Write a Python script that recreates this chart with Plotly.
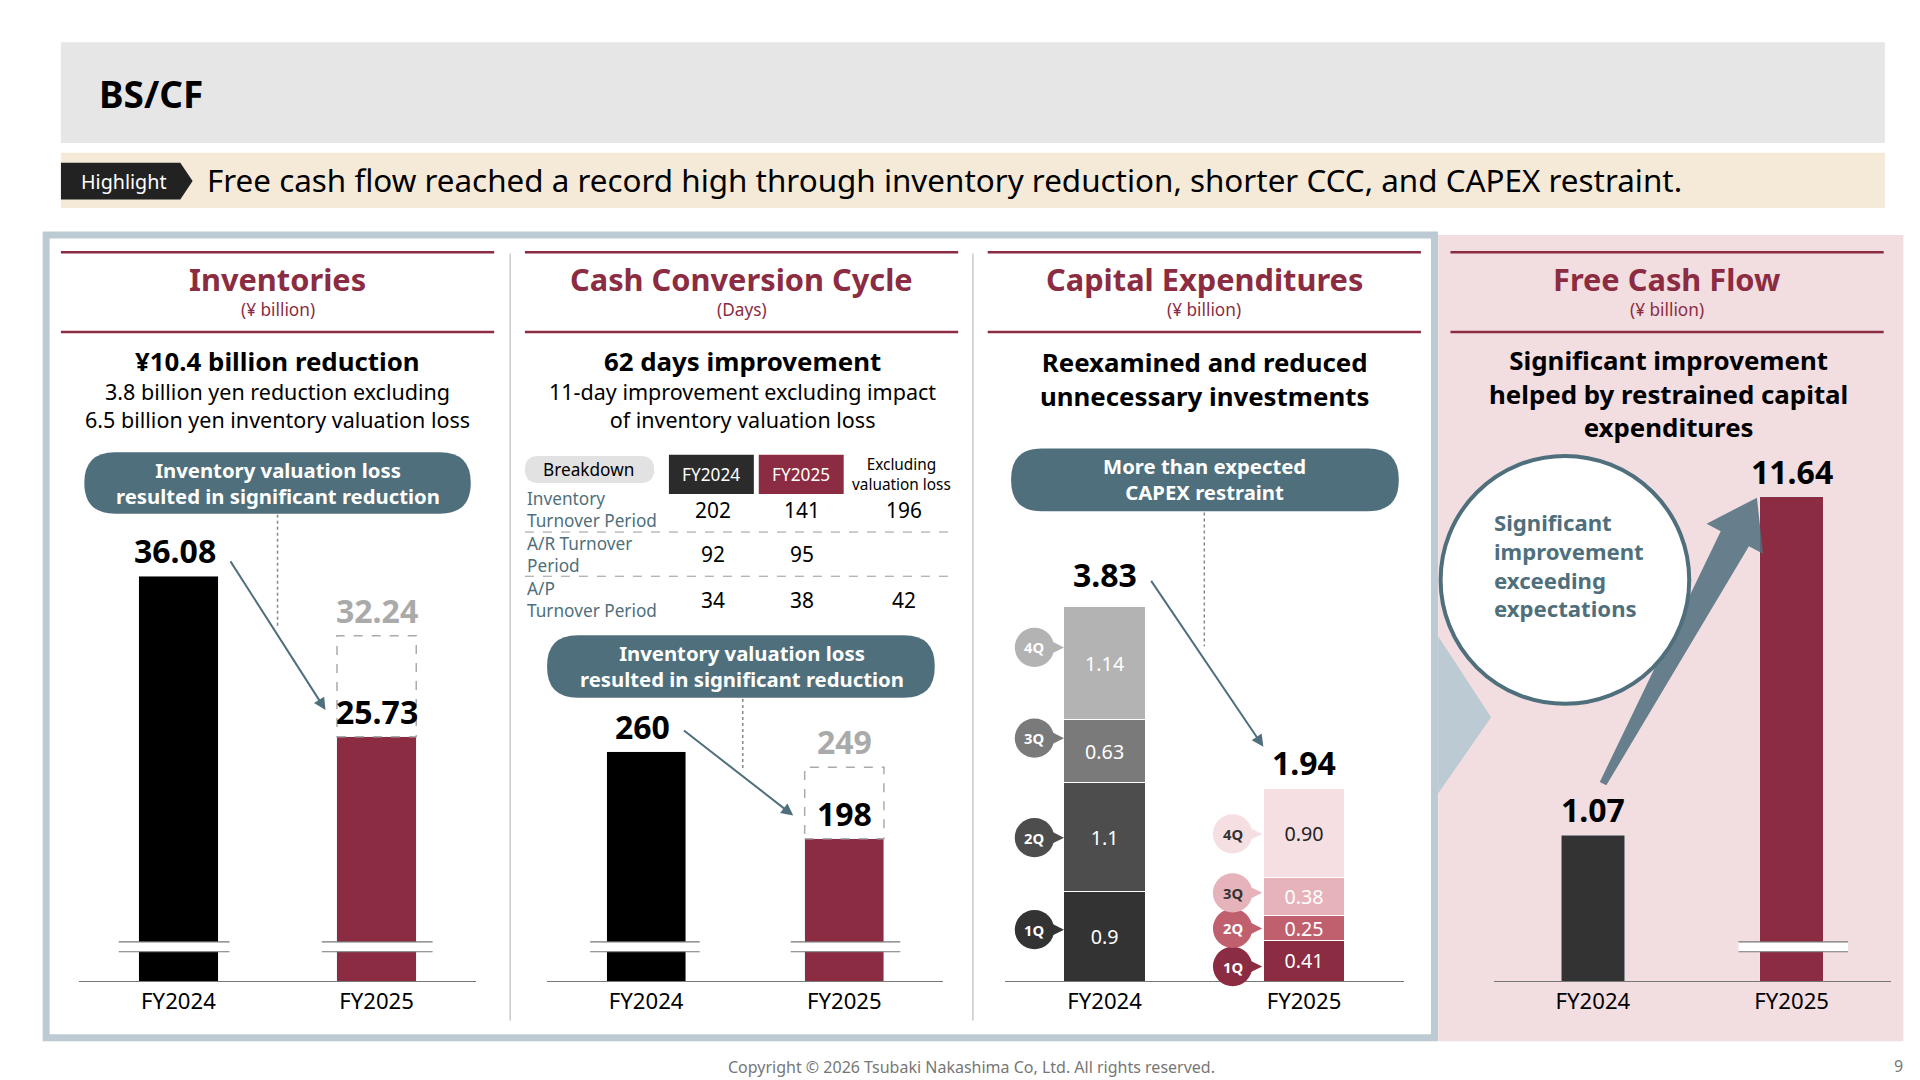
import numpy as np
import plotly.graph_objects as go

W0, H0 = 1560, 880
S = 1920 / W0
RED = "#8b2c42"
SLATE = "#4f6f7c"
FONT = "Noto Sans"

cats = ["FY2024", "FY2025"]
inv = [36.08, 25.73]
inv_excl = 32.24
ccc = [260, 198]
ccc_excl = 249
capex_q = ["1Q", "2Q", "3Q", "4Q"]
capex_24 = [0.9, 1.1, 0.63, 1.14]
capex_25 = [0.41, 0.25, 0.38, 0.90]
capex_tot = [3.83, 1.94]
fcf = [1.07, 11.64]
tbl_rows = ["Inventory<br>Turnover Period", "A/R Turnover<br>Period", "A/P<br>Turnover Period"]
tbl_24 = ["202", "92", "34"]
tbl_25 = ["141", "95", "38"]
tbl_ex = ["196", "", "42"]


def X(px):
    return px / W0


def Y(py):
    return 1 - py / H0


def F(sz):
    return sz * S


anns = []
shapes = []


def txt(px, py, text, size, color="black", bold=False, xa="center", ya="middle", align="center"):
    if bold:
        text = "<b>" + text + "</b>"
    anns.append(dict(x=X(px), y=Y(py), xref="paper", yref="paper", text=text, showarrow=False,
                     xanchor=xa, yanchor=ya, align=align,
                     font=dict(size=F(size), color=color, family=FONT)))


def rect(x0, y0, x1, y1, fill, line=None, lw=0, dash=None, layer="below"):
    shapes.append(dict(type="rect", xref="paper", yref="paper", x0=X(x0), x1=X(x1), y0=Y(y0), y1=Y(y1),
                       fillcolor=fill, line=dict(color=line or fill, width=lw, dash=dash), layer=layer))


def path(pts, fill, line=None, lw=0, layer="above", closed=True):
    d = "M " + " L ".join(f"{X(a):.5f},{Y(b):.5f}" for a, b in pts) + (" Z" if closed else "")
    shapes.append(dict(type="path", xref="paper", yref="paper", path=d, fillcolor=fill,
                       line=dict(color=line or fill, width=lw), layer=layer))


def rrect(x0, y0, x1, y1, r, fill):
    p = (f"M {X(x0+r)},{Y(y0)} L {X(x1-r)},{Y(y0)} Q {X(x1)},{Y(y0)} {X(x1)},{Y(y0+r)} "
         f"L {X(x1)},{Y(y1-r)} Q {X(x1)},{Y(y1)} {X(x1-r)},{Y(y1)} L {X(x0+r)},{Y(y1)} "
         f"Q {X(x0)},{Y(y1)} {X(x0)},{Y(y1-r)} L {X(x0)},{Y(y0+r)} Q {X(x0)},{Y(y0)} {X(x0+r)},{Y(y0)} Z")
    shapes.append(dict(type="path", xref="paper", yref="paper", path=p, fillcolor=fill,
                       line=dict(width=0), layer="above"))


def circ(cx, cy, r, fill, line=None, lw=0):
    shapes.append(dict(type="circle", xref="paper", yref="paper", x0=X(cx-r), x1=X(cx+r),
                       y0=Y(cy-r), y1=Y(cy+r), fillcolor=fill, line=dict(color=line or fill, width=lw),
                       layer="above"))


def vline(px, y0, y1, color="#888", dash="dot", lw=1.5):
    shapes.append(dict(type="line", xref="paper", yref="paper", x0=X(px), x1=X(px), y0=Y(y0), y1=Y(y1),
                       line=dict(color=color, width=lw, dash=dash), layer="above"))


def hline(py, x0, x1, color="#888", dash=None, lw=1.5, layer="above"):
    shapes.append(dict(type="line", xref="paper", yref="paper", x0=X(x0), x1=X(x1), y0=Y(py), y1=Y(py),
                       line=dict(color=color, width=lw, dash=dash), layer=layer))


def arrow(x0, y0, x1, y1):
    anns.append(dict(x=X(x1), y=Y(y1), xref="paper", yref="paper", ax=(x0-x1)*S, ay=(y0-y1)*S,
                     showarrow=True, arrowhead=2, arrowsize=1.2, arrowwidth=2, arrowcolor=SLATE, text=""))


def brk(py, x0, x1):
    rect(x0, py-4, x1, py+4, "white", layer="above")
    hline(py-4, x0, x1, "#777", lw=1.2)
    hline(py+4, x0, x1, "#777", lw=1.2)


# header bands
rect(43, 28, 1525, 110, "#e6e6e6")
txt(72, 70, "BS/CF", 30, bold=True, xa="left")
rect(43, 118, 1525, 163, "#f5ead8")
path([(43, 126), (140, 126), (150, 141), (140, 156), (43, 156)], "#222")
txt(94, 141, "Highlight", 16, "white")
txt(160, 140, "Free cash flow reached a record high through inventory reduction, shorter CCC, and CAPEX restraint.",
    25.5, xa="left")

# panels
rect(1162, 185, 1540, 842, "#f2dde0")
rect(31, 185, 1159, 839, "rgba(0,0,0,0)", "#bccbd3", lw=7)
path([(1162, 512), (1205, 578), (1162, 640)], "#bccbd3")
vline(408, 200, 825, "#bbb", dash=None, lw=1.2)
vline(784, 200, 825, "#bbb", dash=None, lw=1.2)

panels = [(43, 395, "Inventories", "(¥ billion)"), (420, 772, "Cash Conversion Cycle", "(Days)"),
          (796, 1148, "Capital Expenditures", "(¥ billion)"), (1172, 1524, "Free Cash Flow", "(¥ billion)")]
for x0, x1, t, u in panels:
    hline(199, x0, x1, RED, lw=2.5)
    hline(264, x0, x1, RED, lw=2.5)
    txt((x0+x1)/2, 221, t, 25, RED, bold=True)
    txt((x0+x1)/2, 246, u, 14, RED)

txt(219, 288, "¥10.4 billion reduction", 21, bold=True)
txt(219, 324, "3.8 billion yen reduction excluding<br>6.5 billion yen inventory valuation loss", 17.5)
txt(597, 288, "62 days improvement", 21, bold=True)
txt(597, 324, "11-day improvement excluding impact<br>of inventory valuation loss", 17.5)
txt(972, 302, "Reexamined and reduced<br>unnecessary investments", 21, bold=True)
txt(1349, 314, "Significant improvement<br>helped by restrained capital<br>expenditures", 21, bold=True)

# pills
rrect(62, 362, 376, 412, 25, SLATE)
txt(219, 387, "Inventory valuation loss<br>resulted in significant reduction", 16.5, "white", bold=True)
rrect(438, 511, 753, 562, 25, SLATE)
txt(596, 536, "Inventory valuation loss<br>resulted in significant reduction", 16.5, "white", bold=True)
rrect(815, 359, 1130, 410, 25, SLATE)
txt(972, 384, "More than expected<br>CAPEX restraint", 16.5, "white", bold=True)
vline(219, 413, 505)
vline(597, 563, 620)
vline(972, 411, 520)

# table
rrect(420, 365, 525, 387, 11, "#e2e2e2")
txt(472, 376, "Breakdown", 14)
rect(537, 364, 606, 396, "#2b2b2b", layer="above")
txt(571, 380, "FY2024", 14, "white")
rect(610, 364, 679, 396, RED, layer="above")
txt(644, 380, "FY2025", 14, "white")
txt(726, 380, "Excluding<br>valuation loss", 12.5)
row_y = [409, 445, 482]
for i, ry in enumerate(row_y):
    txt(420, ry, tbl_rows[i], 14, SLATE, xa="left", align="left")
    txt(573, ry, tbl_24[i], 17)
    txt(645, ry, tbl_25[i], 17)
    txt(728, ry, tbl_ex[i], 17)
hline(427, 420, 768, "#999", dash="dash", lw=1)
hline(463, 420, 768, "#999", dash="dash", lw=1)

# charts
dom_y = [Y(793), Y(380)]
specs = [  # axis x-range in ref px, baseline value, px per unit, bargap
    (58, 380, 10.0, 12.66, 0.6),
    (438, 760, 96.7, 1.145, 0.6),
    (810, 1134, 0.0, 81.0, 0.59),
    (1207, 1530, -3.49, 26.1, 0.68),
]
layout_axes = {}
for i, (a0, a1, c, k, g) in enumerate(specs, start=1):
    layout_axes[f"xaxis{i}"] = dict(domain=[X(a0), X(a1)], anchor=f"y{i}", showline=True, linecolor="#777",
                                    linewidth=1.2, ticks="", tickfont=dict(size=F(18), family=FONT, color="black"),
                                    fixedrange=True, showgrid=False)
    layout_axes[f"yaxis{i}"] = dict(domain=dom_y, anchor=f"x{i}", range=[c, c + 413 / k], visible=False,
                                    fixedrange=True)

fig = go.Figure()
c1 = specs[0][2]
fig.add_trace(go.Bar(x=cats, y=[v - c1 for v in inv], base=c1, marker_color=["black", RED],
                     xaxis="x1", yaxis="y1", width=1 - specs[0][4]))
c2 = specs[1][2]
fig.add_trace(go.Bar(x=cats, y=[v - c2 for v in ccc], base=c2, marker_color=["black", RED],
                     xaxis="x2", yaxis="y2", width=1 - specs[1][4]))
gray_cols = ["#333333", "#4d4d4d", "#7a7a7a", "#b3b3b3"]
red_cols = [RED, "#c0606f", "#e6b3bb", "#f6dfe2"]
red_txt = ["white", "white", "white", "#222"]
for j in range(4):
    fig.add_trace(go.Bar(x=[cats[0]], y=[capex_24[j]], marker=dict(color=gray_cols[j], line=dict(color="white", width=1)),
                         text=[f"{capex_24[j]}"], textposition="inside", insidetextanchor="middle",
                         constraintext="none", cliponaxis=False,
                         textfont=dict(color="white", size=F(16), family=FONT),
                         xaxis="x3", yaxis="y3", width=1 - specs[2][4]))
    fig.add_trace(go.Bar(x=[cats[1]], y=[capex_25[j]], marker=dict(color=red_cols[j], line=dict(color="white", width=1)),
                         text=[f"{capex_25[j]:.2f}"], textposition="inside", insidetextanchor="middle",
                         constraintext="none", cliponaxis=False,
                         textfont=dict(color=red_txt[j], size=F(16), family=FONT),
                         xaxis="x3", yaxis="y3", width=1 - specs[2][4]))
c4 = specs[3][2]
fig.add_trace(go.Bar(x=cats, y=[v - c4 for v in fcf], base=c4, marker_color=["#333333", RED],
                     xaxis="x4", yaxis="y4", width=1 - specs[3][4]))


def vlab(ax, cat, val, text, size=26, color="black", dx=0):
    anns.append(dict(x=cat, y=val, xref=f"x{ax}", yref=f"y{ax}", text="<b>" + text + "</b>", showarrow=False,
                     yanchor="bottom", xshift=dx * S, yshift=2,
                     font=dict(size=F(size), color=color, family=FONT)))


bw = 1 - specs[0][4]
shapes.append(dict(type="rect", xref="x1", yref="y1", x0=1 - bw / 2, x1=1 + bw / 2, y0=inv[1], y1=inv_excl,
                   line=dict(color="#aaa", dash="dash", width=1.5), fillcolor="rgba(0,0,0,0)", layer="above"))
bw = 1 - specs[1][4]
shapes.append(dict(type="rect", xref="x2", yref="y2", x0=1 - bw / 2, x1=1 + bw / 2, y0=ccc[1], y1=ccc_excl,
                   line=dict(color="#aaa", dash="dash", width=1.5), fillcolor="rgba(0,0,0,0)", layer="above"))
vlab(1, cats[0], inv[0], "36.08", dx=-3)
vlab(1, cats[1], inv_excl, "32.24", color="#aaa")
vlab(1, cats[1], inv[1], "25.73")
vlab(2, cats[0], ccc[0], "260", dx=-3)
vlab(2, cats[1], ccc_excl, "249", color="#aaa")
vlab(2, cats[1], ccc[1], "198")
vlab(3, cats[0], capex_tot[0], f"{capex_tot[0]}")
vlab(3, cats[1], capex_tot[1], f"{capex_tot[1]}")
vlab(4, cats[0], fcf[0], f"{fcf[0]}")
vlab(4, cats[1], fcf[1], f"{fcf[1]}")

arrow(180, 450, 258, 572)
arrow(548, 588, 638, 658)
arrow(928, 466, 1020, 602)

brk(765, 90, 180)
brk(765, 255, 345)
brk(765, 473, 562)
brk(765, 636, 725)
brk(765, 1406, 1495)

# quarter badges
q24_y = [751, 676, 595, 521]
q25_y = [781, 750, 721, 673]
q25_txt = ["white", "white", "#333", "#333"]
for j in range(4):
    path([(846, q24_y[j]-6), (858, q24_y[j]), (846, q24_y[j]+6)], gray_cols[j])
    circ(834, q24_y[j], 16, gray_cols[j])
    txt(834, q24_y[j], capex_q[j], 12, "white", bold=True)
    path([(1007, q25_y[j]-6), (1019, q25_y[j]), (1007, q25_y[j]+6)], red_cols[j])
    circ(995, q25_y[j], 16, red_cols[j])
    txt(995, q25_y[j], capex_q[j], 12, q25_txt[j], bold=True)

# FCF circle and big arrow
tail = np.array([1296.0, 632.0])
tip = np.array([1421.0, 399.0])
d = (tip - tail) / np.linalg.norm(tip - tail)
n = np.array([d[1], -d[0]]) * -1
hb = tip - d * 38
pts = [tail + n * 3, hb + n * 13, hb + n * 26, tip, hb - n * 26, hb - n * 13, tail - n * 3]
path([tuple(p) for p in pts], "rgba(79,111,124,0.85)")
circ(1265, 466, 101, "white", SLATE, lw=4)
txt(1206, 454, "Significant<br>improvement<br>exceeding<br>expectations", 18, SLATE, bold=True, xa="left", align="left")

txt(783, 863, "Copyright © 2026 Tsubaki Nakashima Co, Ltd. All rights reserved.", 13, "#777")
txt(1536, 862, "9", 13, "#777")

fig.update_layout(width=1920, height=1080, margin=dict(l=0, r=0, t=0, b=0), paper_bgcolor="white",
                  plot_bgcolor="rgba(0,0,0,0)", showlegend=False, barmode="stack",
                  annotations=anns, shapes=shapes, font=dict(family=FONT), **layout_axes)
fig.write_html("out.html")
